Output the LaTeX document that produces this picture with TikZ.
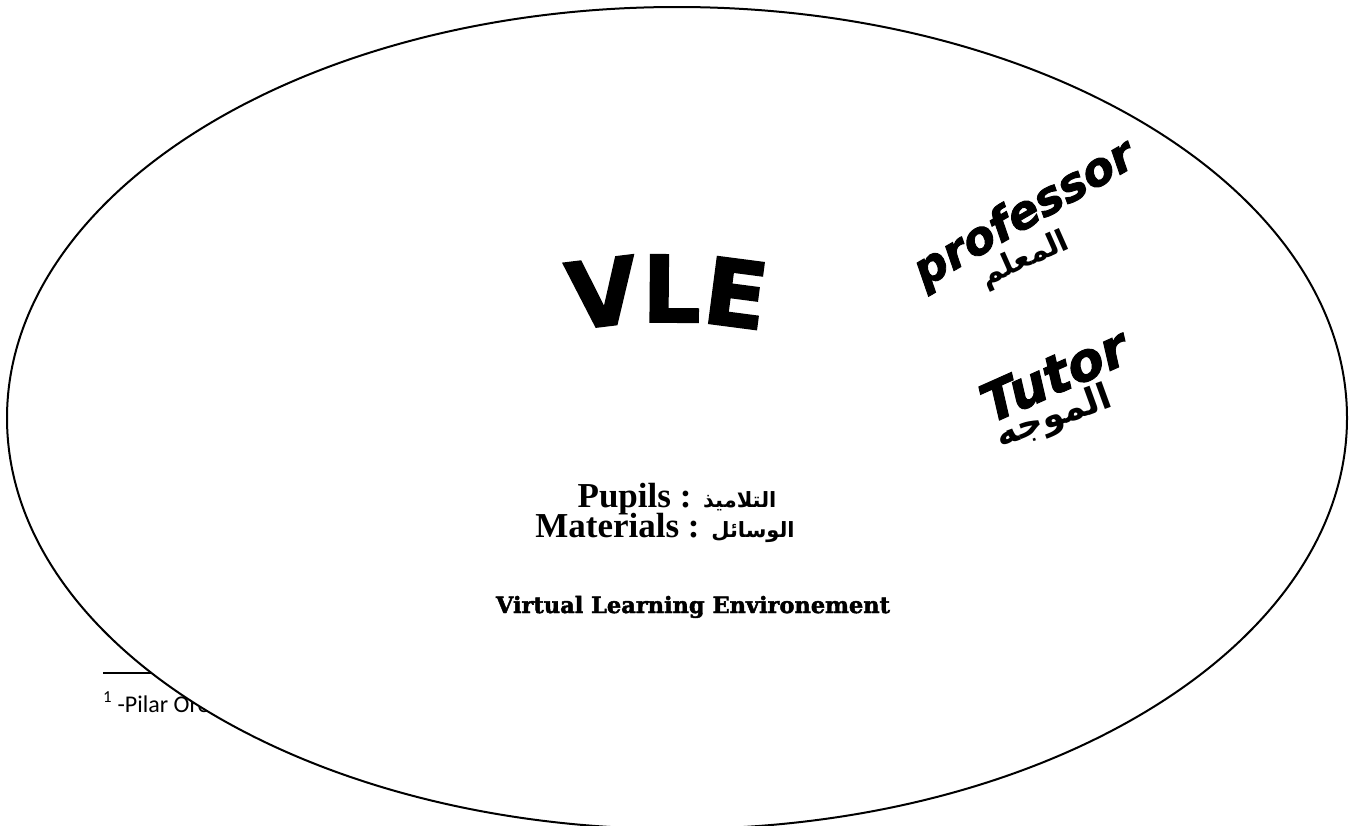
\documentclass[tikz,border=0pt]{standalone}
\usepackage{fontspec}
\setmainfont{Liberation Serif}
\TeXXeTstate=1
\newfontfamily\arabicfont[Script=Arabic,UprightFont={* Bold}]{DejaVu Sans}
\newfontfamily\heavyfont[UprightFont={* Bold},ItalicFont={* Bold Oblique},FakeBold=2]{DejaVu Sans}
\newfontfamily\slabfont[UprightFont={* Bold},FakeBold=2]{DejaVu Serif}
\newfontfamily\notefont{Carlito}
\usetikzlibrary{decorations.text}
\newcommand\vlefont{\heavyfont\fontsize{92}{92}\selectfont}
\newcommand\memberar{\arabicfont\fontsize{21}{30}\selectfont}

\begin{document}
\begin{tikzpicture}[x=1pt,y=1pt,
  wordart/.style={inner sep=0pt, font=\heavyfont\itshape\fontsize{#1}{#1}\selectfont},
  arlabel/.style={inner sep=0pt, font=\arabicfont\fontsize{#1}{#1}\selectfont},
  member/.style={inner sep=0pt, anchor=base, font=\fontsize{35}{38}\selectfont}]
\useasboundingbox (0,0) rectangle (1356,-825);
\fill[white] (0,0) rectangle (1356,-825);

% footnote rule and text, partly covered by the ellipse
\coordinate (ruleA) at (103,-673);
\coordinate (ruleB) at (300,-673);
\draw[line width=1.2] (ruleA) -- (ruleB);
\node[anchor=base west, inner sep=0pt, font=\notefont\fontsize{24}{28}\selectfont] (note) at (103,-712) {\textsuperscript{1} -Pilar Ore};

% the environment
\draw[line width=2, fill=white] (677,-418) ellipse [x radius=670, y radius=411];

% arched title
\path[decorate, decoration={text along path, text align=center, text={|\vlefont|VLE}}]
  ([shift={(102:500)}]667,-822) arc[start angle=102, end angle=78, radius=500];

% roles
\node[wordart=46, rotate=30] (prof) at (1025,-215) {professor};
\node[arlabel=30, rotate=24] (profar) at (1025,-260) {\beginR المعلم\endR};
\node[wordart=53, rotate=24] (tutor) at (1054,-375) {Tutor};
\node[arlabel=36, rotate=20] (tutorar) at (1054,-418) {\beginR الموجه\endR};

% members
\node[member] (pupils) at (677,-507) {\textbf{Pupils :} {\memberar\beginR التلاميذ\endR}};
\node[member] (materials) at (665,-537) {\textbf{Materials :} {\memberar\beginR الوسائل\endR}};

% caption
\node[anchor=base, inner sep=0pt, font=\slabfont\fontsize{22.5}{24}\selectfont] (caption) at (693,-613) {Virtual Learning Environement};
\end{tikzpicture}
\end{document}
